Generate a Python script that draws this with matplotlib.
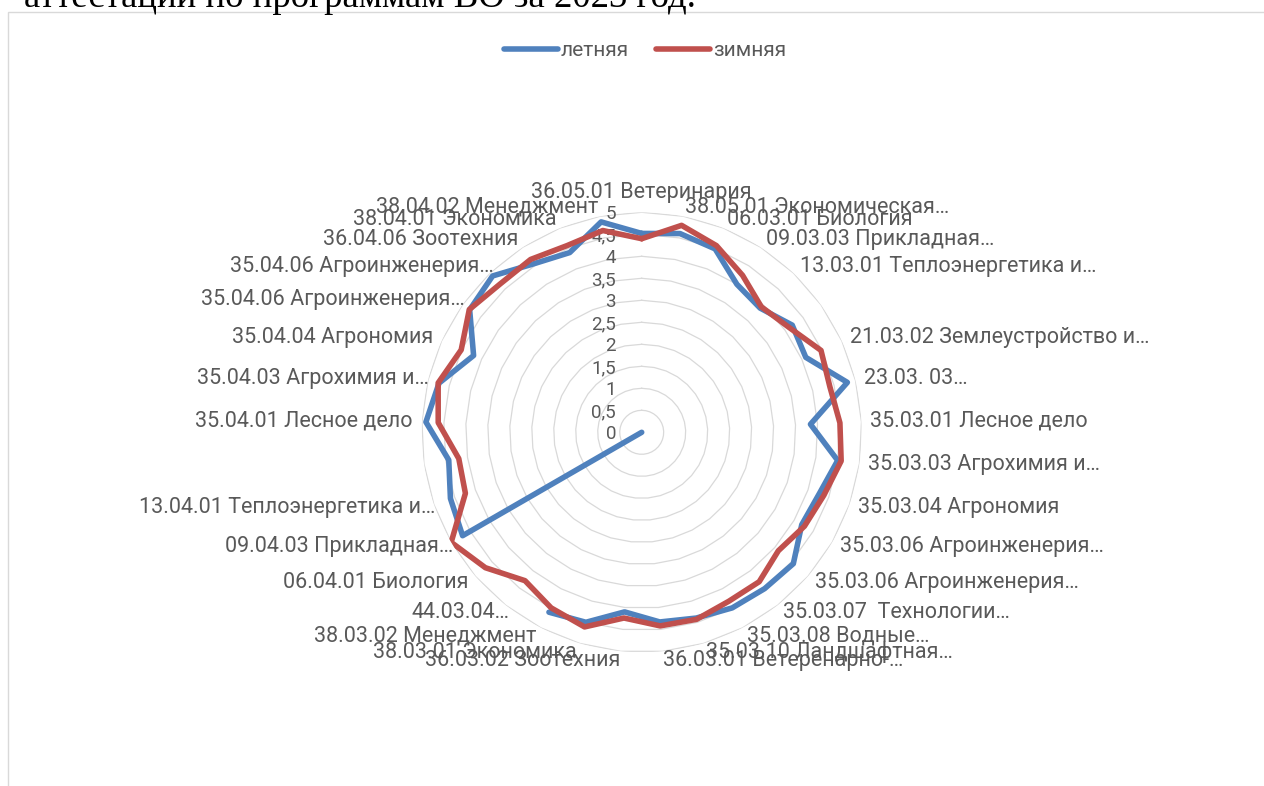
import numpy as np
import matplotlib
matplotlib.use("Agg")
import matplotlib.pyplot as plt
from matplotlib.lines import Line2D
from matplotlib.patches import Rectangle

plt.rcParams['font.family'] = ['Roboto', 'DejaVu Sans']

categories = [
    "36.05.01 Ветеринария", "38.05.01 Экономическая…", "06.03.01 Биология",
    "09.03.03 Прикладная…", "13.03.01 Теплоэнергетика и…", "",
    "21.03.02 Землеустройство и…", "23.03. 03…", "35.03.01 Лесное дело",
    "35.03.03 Агрохимия и…", "35.03.04 Агрономия", "35.03.06 Агроинженерия…",
    "35.03.06 Агроинженерия…", "35.03.07  Технологии…", "35.03.08 Водные…",
    "35.03.10 Ландшафтная…", "36.03.01 Ветеренарно-…", "36.03.02 Зоотехния",
    "38.03.01 Экономика", "38.03.02 Менеджмент", "44.03.04…",
    "06.04.01 Биология", "09.04.03 Прикладная…", "13.04.01 Теплоэнергетика и…",
    "", "35.04.01 Лесное дело", "35.04.03 Агрохимия и…", "35.04.04 Агрономия",
    "35.04.06 Агроинженерия…", "35.04.06 Агроинженерия…", "36.04.06 Зоотехния",
    "38.04.01 Экономика", "38.04.02 Менеджмент",
]

summer = [4.52, 4.60, 4.49, 4.00, 3.90, 4.20, 4.10, 4.81, 3.84, 4.50, 4.27,
          4.20, 4.56, 4.52, 4.49, 4.40, 4.33, 4.10, 4.50, 4.60, np.nan, 0.0,
          4.70, 4.60, 4.43, 4.91, 4.74, 4.20, 4.80, 4.91, 4.55, 4.40, 4.87]

winter = [4.40, 4.79, 4.57, 4.24, 3.94, 4.11, 4.48, 4.40, 4.51, 4.58, 4.38,
          4.27, 4.11, 4.32, 4.32, 4.43, 4.42, 4.24, 4.61, 4.49, 4.29, 4.70,
          5.00, 4.24, 4.20, 4.63, 4.76, 4.51, 4.81, 4.66, 4.67, 4.57, 4.67]

series_names = ["летняя", "зимняя"]
tick_values = [0, 0.5, 1, 1.5, 2, 2.5, 3, 3.5, 4, 4.5, 5]
tick_labels = ["0", "0,5", "1", "1,5", "2", "2,5", "3", "3,5", "4", "4,5", "5"]

BLUE = "#4F81BD"
RED = "#C0504D"
GRID = "#D9D9D9"
TXT = "#595959"

W, H = 1264, 786
fig = plt.figure(figsize=(W / 100, H / 100), dpi=100)
fig.patch.set_facecolor("white")

# chart area border
fig.add_artist(Rectangle((8 / W, -0.2), 1.5, 1.2 - 12 / H, transform=fig.transFigure,
                         fill=False, edgecolor="#D9D9D9", lw=1.0))

# clipped document text at top
fig.text(24 / W, 1 - 7 / H, "аттестации по программам ВО за 2023 год.",
         family="Liberation Serif", fontsize=26.5, color="black", va="baseline", ha="left")

cx, cy, R = 641.7, 432.3, 220.0
ax = fig.add_axes([(cx - R) / W, (H - cy - R) / H, 2 * R / W, 2 * R / H], projection="polar")
ax.set_theta_zero_location("N")
ax.set_theta_direction(-1)
ax.set_ylim(0, 5)
ax.set_facecolor("none")
ax.grid(False)
ax.spines["polar"].set_visible(False)
ax.set_xticks([])
ax.set_yticks([])

n = len(categories)
theta = np.arange(n) * 2 * np.pi / n
theta_c = np.append(theta, theta[0])

# polygon gridlines
for v in tick_values[1:]:
    ax.plot(theta_c, [v] * (n + 1), color=GRID, lw=0.9, zorder=1)

# tick labels
for v, lab in zip(tick_values, tick_labels):
    ax.annotate(lab, xy=(0, v), xytext=(-18.5, -1.5), textcoords="offset points",
                ha="right", va="center", fontsize=13.5, color=TXT, annotation_clip=False)

# series
for vals, col in ((summer, BLUE), (winter, RED)):
    vc = np.append(vals, vals[0])
    ax.plot(theta_c, vc, color=col, lw=4.0, solid_joinstyle="round",
            solid_capstyle="round", zorder=3)

# category labels
r_lab = 5 * 229 / 220
for t, lab in zip(theta, categories):
    if not lab:
        continue
    deg = np.degrees(t)
    dx = 0
    if deg < 1e-6:
        ha, va = "center", "bottom"
    elif deg < 180:
        ha, va = "left", "center"
    else:
        ha, va = "right", "center"
        if lab.endswith("…"):
            dx = 7
    ax.annotate(lab, xy=(t, r_lab), xytext=(dx, 0), textcoords="offset points",
                ha=ha, va=va, fontsize=15.5, color=TXT, annotation_clip=False)

# legend
handles = [Line2D([], [], color=BLUE, lw=4.0, solid_capstyle="round"),
           Line2D([], [], color=RED, lw=4.0, solid_capstyle="round")]
leg = fig.legend(handles, series_names, loc="center", ncol=2,
                 bbox_to_anchor=(645 / W, 1 - 51 / H), frameon=False,
                 fontsize=15, handlelength=2.6, handletextpad=0.12,
                 columnspacing=1.3, borderpad=0)
for t in leg.get_texts():
    t.set_color(TXT)

fig.savefig("out.png", dpi=100, facecolor="white")
